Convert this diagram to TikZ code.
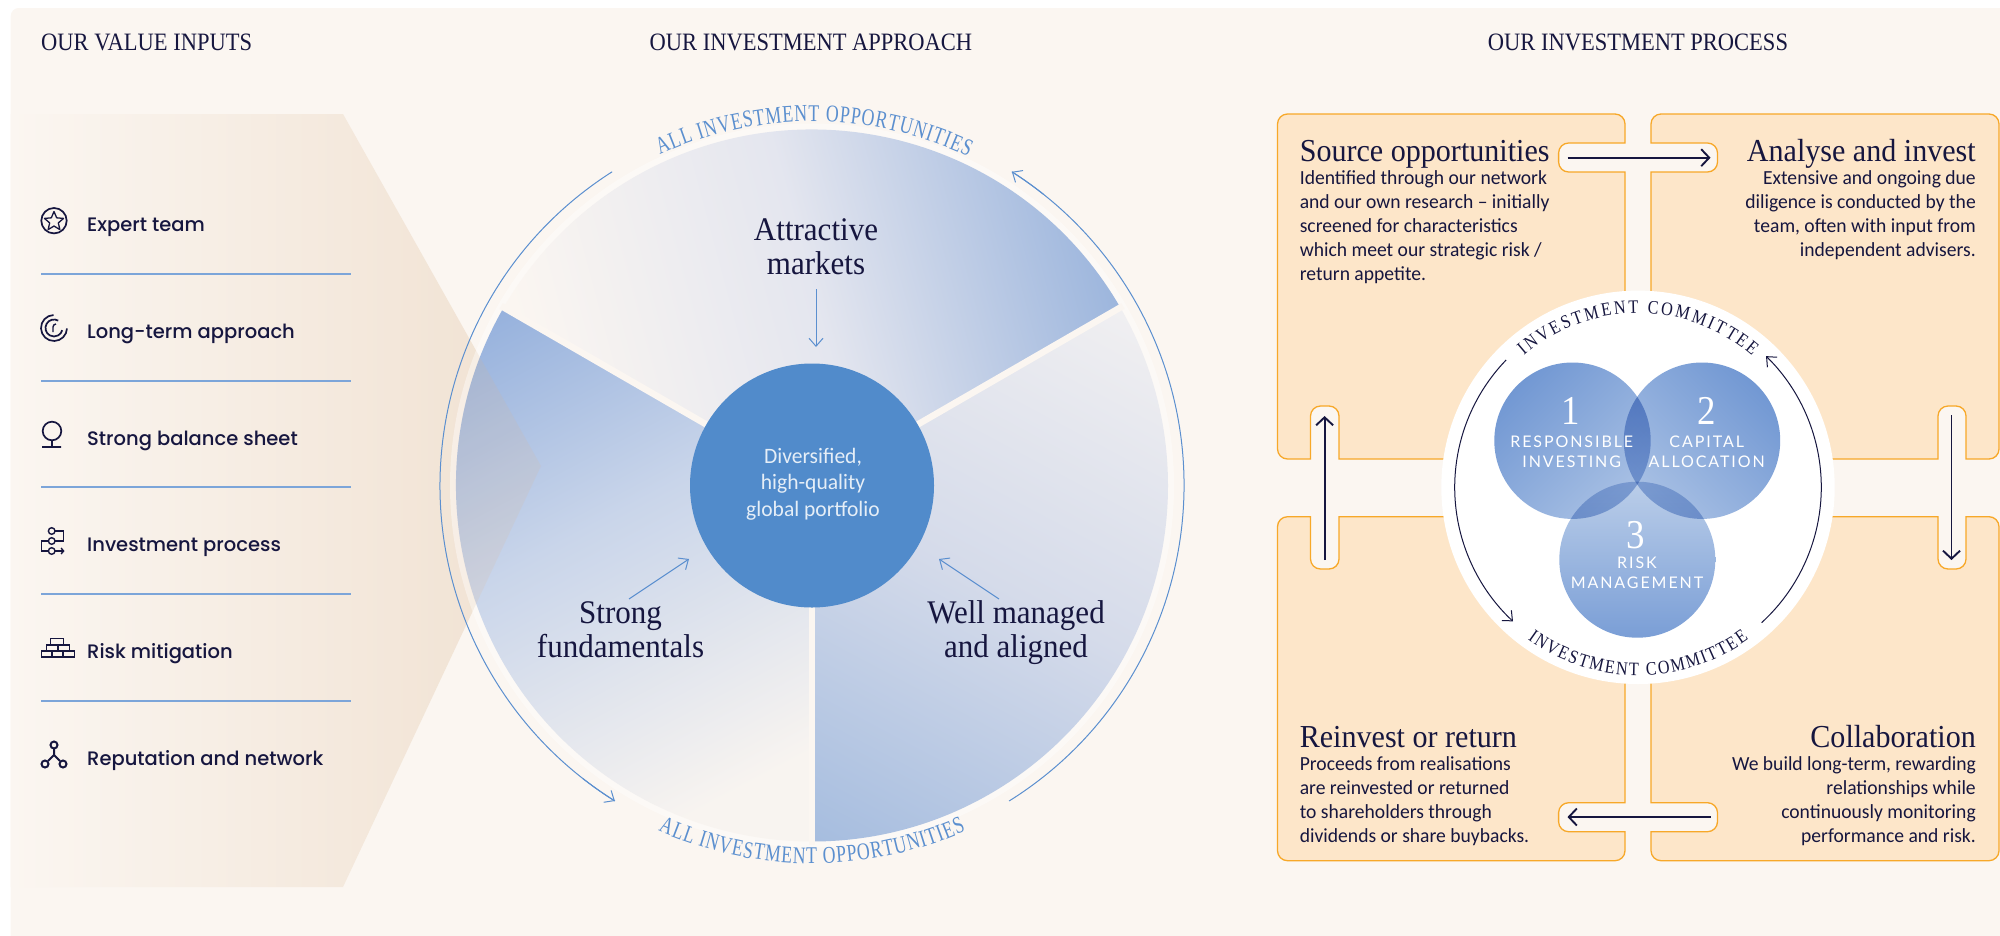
\documentclass[tikz,border=0pt]{standalone}
\usepackage{fontspec}
\usetikzlibrary{arrows.meta,calc,decorations.text,shapes.geometric}
\newfontfamily\titlefont[FakeStretch=.9]{Liberation Serif}
\newfontfamily\bigfont[FakeStretch=.94]{Liberation Serif}
\newfontfamily\arcfont[FakeStretch=.74]{Liberation Serif}
\newfontfamily\ringfont[FakeStretch=.85]{Liberation Serif}
\newfontfamily\bodyfont[FakeStretch=.98]{Carlito}
\newfontfamily\labelfont{Poppins Medium}
\newfontfamily\capfont[LetterSpace=12]{Lato}
\definecolor{paper}{HTML}{FBF6F1}
\definecolor{navy}{HTML}{16163F}
\definecolor{accent}{HTML}{5B8FCF}
\definecolor{core}{HTML}{518BCB}
\definecolor{sand}{HTML}{FDE6C9}
\definecolor{amber}{HTML}{F7A829}
\definecolor{wedgeA}{HTML}{E4E6EF}
\definecolor{wedgeB}{HTML}{9DB6DD}
\definecolor{wedgeC}{HTML}{97B2DD}
\definecolor{wedgeD}{HTML}{C9D5EA}
\definecolor{wedgeE}{HTML}{F8F4F0}
\definecolor{wedgeF}{HTML}{F0EFF1}
\definecolor{wedgeG}{HTML}{D5DBEA}
\definecolor{wedgeH}{HTML}{A6BDDF}
\definecolor{bandA}{HTML}{F6ECE2}
\definecolor{bandB}{HTML}{F0E1D1}
\definecolor{vennA}{HTML}{7298D3}
\definecolor{vennB}{HTML}{A8C0E4}
\definecolor{vennC}{HTML}{BBCEE9}
\definecolor{vennD}{HTML}{7A9ED6}
\pgfdeclareverticalshading{topfade}{100bp}{color(0bp)=(paper); color(35.5bp)=(paper); color(53bp)=(wedgeA); color(70.4bp)=(wedgeB); color(100bp)=(wedgeB)}
\pgfdeclareverticalshading{leftfade}{100bp}{color(0bp)=(wedgeC); color(32.2bp)=(wedgeC); color(46bp)=(wedgeD); color(64bp)=(wedgeE); color(100bp)=(wedgeE)}
\pgfdeclareverticalshading{rightfade}{100bp}{color(0bp)=(wedgeF); color(32.2bp)=(wedgeF); color(50bp)=(wedgeG); color(68.6bp)=(wedgeH); color(100bp)=(wedgeH)}
\tikzset{%
	heading/.style  = {anchor=base, inner sep=0, text=navy, font=\titlefont\fontsize{25}{25}\selectfont},
	valuetext/.style= {anchor=base west, inner sep=0, text=navy, font=\labelfont\fontsize{19.5}{24}\selectfont},
	pietext/.style  = {anchor=base, inner sep=0, text=navy, align=center, font=\bigfont\fontsize{33}{34}\selectfont},
	boxhead/.style  = {inner sep=0, text=navy, font=\bigfont\fontsize{32}{32}\selectfont},
	boxbody/.style  = {inner sep=0, text=navy, font=\bodyfont\fontsize{20}{24}\selectfont},
	venntext/.style = {anchor=base, inner sep=0, text=white, align=center, font=\capfont\fontsize{16}{19.3}\selectfont},
	vennnum/.style  = {anchor=base, inner sep=0, text=white, font=\titlefont\fontsize{41}{41}\selectfont},
	icon/.style     = {draw=navy, line width=1.7pt},
	rule/.style     = {draw=accent!80, line width=1.2pt},
	flow/.style     = {draw=accent, line width=1pt, -{Straight Barb[length=8pt,width=14pt,line width=1pt]}},
	plainarc/.style = {draw=accent, line width=1pt},
	ringarc/.style  = {draw=navy, line width=1pt},
	ringflow/.style = {ringarc, -{Straight Barb[length=8pt,width=14pt,line width=1pt]}},
	stepflow/.style = {draw=navy, line width=1.9pt, -{Straight Barb[length=8pt,width=17pt,line width=1.9pt]}},
	stepbox/.style  = {draw=amber, fill=sand, line width=1.3pt},
	rc/.style       = {rounded corners=10pt},
	sc/.style       = {sharp corners},
}
\begin{document}
\begin{tikzpicture}[x=1pt,y=-1pt]
	\useasboundingbox (0,0) rectangle (2000,935);
	\fill[paper,rounded corners=8pt] (10.7,8) rectangle (2020,960);
	\coordinate (core) at (812,485.5);
	\coordinate (ring) at (1638,487.3);

	% value input band
	\path[left color=paper,middle color=bandA,right color=bandB] (10.7,114) -- (343,114) -- (541,466) -- (343,887) -- (10.7,887) -- cycle;
	\node[heading,anchor=base west] (headvalue) at (41,50) {OUR VALUE INPUTS};
	\node[heading] (headapproach) at (811,50) {OUR INVESTMENT APPROACH};
	\node[heading] (headprocess) at (1638,50) {OUR INVESTMENT PROCESS};

	\foreach \y in {274,381,487,594,701}
		\draw[rule] (41,\y) -- (351,\y);
	\foreach \y/\name/\txt in {231/team/Expert team,338/term/Long-term approach,445/sheet/Strong balance sheet,551/proc/Investment process,658/risk/Risk mitigation,765/net/Reputation and network}
		\node[valuetext] (\name) at (87,\y) {\txt};

	% icons
	\draw[icon] (54,220.7) circle (12.7);
	\node[icon,star,star points=5,star point ratio=2.2,minimum size=20pt,inner sep=0,line width=1.3pt,line join=round] (staricon) at (54,221.5) {};
	\begin{scope}[shift={(54,328)},y=1pt]
		\draw[icon] (92:13) arc[start angle=92,end angle=358,radius=13];
		\draw[icon] (60:8.5) arc[start angle=60,end angle=345,radius=8.5];
		\draw[icon,line width=1.4pt] (-1,-4) -- (-1,1) arc[start angle=180,end angle=90,radius=3];
	\end{scope}
	\draw[icon] (52,431) circle (9.3) (52,440.3) -- (52,447) (42,447) -- (61,447);
	\foreach \y in {531,541,551}
		\draw[icon,line width=1.4pt] (51.7,\y) circle (3.3);
	\draw[icon,line width=1.4pt] (55,531) -- (63.3,531) -- (63.3,541) -- (55,541) (48.4,541) -- (41.5,541) -- (41.5,551) -- (48.4,551);
	\draw[icon,line width=1.4pt,-{Straight Barb[length=2.5pt,width=6pt]}] (55,551) -- (64.5,551);
	\draw[icon,line width=1.5pt] (50.7,638.5) rectangle (63.3,645) (46.7,645) rectangle (58,651) (58,645) rectangle (69.3,651) (41.5,651) rectangle (52,657) (52,651) rectangle (63,657) (63,651) rectangle (74.3,657);
	\draw[icon,line width=2pt] (54,745) circle (3.5) (45,764) circle (3.5) (63,764) circle (3.5);
	\draw[icon,line width=2pt] (54,748.5) -- (54,755) -- (48,761) (54,755) -- (60,761);

	% pie
	\fill[white,opacity=.4] (core) circle (362);
	\foreach \from/\to/\fade/\ang in {30/150/topfade/-75,150/270/leftfade/-152,270/390/rightfade/152}{
		\begin{scope}
			\clip (core) -- ++(\from:356pt) arc[start angle=\from,end angle=\to,radius=356pt] -- cycle;
			\shade[shading=\fade,shading angle=\ang] (392,65.5) rectangle (1232,905.5);
		\end{scope}
	}
	\begin{scope}
		\clip (10.7,114) -- (343,114) -- (541,466) -- (343,887) -- (10.7,887) -- cycle;
		\fill[brown!70!orange!60,opacity=.13] (core) circle (356);
	\end{scope}
	\foreach \a in {30,150,270}
		\draw[paper,line width=6.5pt] (core) -- ++(\a:359pt);
	\node[circle,fill=core,minimum size=244pt,inner sep=0] (hub) at (core) {};
	\node[anchor=base,inner sep=0,text=white!85!core,align=center,font=\bodyfont\fontsize{22}{26.5}\selectfont] (hubtext) at (813,516) {Diversified,\\high-quality\\global portfolio};

	\begin{scope}[shift={(core)},y=1pt]
		\draw[plainarc] (122.5:372) arc[start angle=122.5,end angle=238,radius=372];
		\draw[plainarc] (-58:372) arc[start angle=-58,end angle=57.5,radius=372];
		\draw[flow] (232:372) arc[start angle=232,end angle=238,radius=372];
		\draw[flow] (51.5:372) arc[start angle=51.5,end angle=57.5,radius=372];
		\path[decorate,decoration={text along path,text={|\arcfont\fontsize{24}{24}\selectfont\color{accent}|ALL INVESTMENT OPPORTUNITIES},text align=fit to path}] (114.7:364) arc[start angle=114.7,end angle=64.6,radius=364];
		\path[decorate,decoration={text along path,text={|\arcfont\fontsize{24}{24}\selectfont\color{accent}|ALL INVESTMENT OPPORTUNITIES},text align=fit to path}] (246:378) arc[start angle=246,end angle=294,radius=378];
	\end{scope}

	\node[pietext] (attractive) at (816,274) {Attractive\\markets};
	\node[pietext] (strong) at (620.5,657) {Strong\\fundamentals};
	\node[pietext] (well) at (1016,657) {Well managed\\and aligned};
	\coordinate (mkta) at (816,289);
	\coordinate (mktb) at (816,347);
	\coordinate (fuda) at (629,599);
	\coordinate (fudb) at (689,559);
	\coordinate (alia) at (999,599);
	\coordinate (alib) at (939,559);
	\draw[flow] (mkta) -- (mktb);
	\draw[flow] (fuda) -- (fudb);
	\draw[flow] (alia) -- (alib);

	% process boxes
	\draw[stepbox] (1400,114) [rc] -- (1625,114) [sc] -- (1625,143) [rc] -- (1558.6,143) -- (1558.6,172) [sc] -- (1625,172) [rc] -- (1625,459) [sc] -- (1339,459) [rc] -- (1339,406) -- (1310.5,406) [sc] -- (1310.5,459) [rc] -- (1277.5,459) -- (1277.5,114) -- cycle;
	\draw[stepbox] (1800,114) [rc] -- (1999,114) -- (1999,459) [sc] -- (1966,459) [rc] -- (1966,406) -- (1938,406) [sc] -- (1938,459) [rc] -- (1651,459) [sc] -- (1651,172) [rc] -- (1717.5,172) -- (1717.5,143) [sc] -- (1651,143) [rc] -- (1651,114) -- cycle;
	\draw[stepbox] (1400,860.7) [rc] -- (1277.5,860.7) -- (1277.5,516.7) [sc] -- (1310.5,516.7) [rc] -- (1310.5,569) -- (1339,569) [sc] -- (1339,516.7) [rc] -- (1625,516.7) [sc] -- (1625,802.7) [rc] -- (1558.6,802.7) -- (1558.6,831.7) [sc] -- (1625,831.7) [rc] -- (1625,860.7) -- cycle;
	\draw[stepbox] (1800,860.7) [rc] -- (1651,860.7) [sc] -- (1651,831.7) [rc] -- (1717.5,831.7) -- (1717.5,802.7) [sc] -- (1651,802.7) [rc] -- (1651,516.7) [sc] -- (1938,516.7) [rc] -- (1938,569) -- (1966,569) [sc] -- (1966,516.7) [rc] -- (1999,516.7) -- (1999,860.7) -- cycle;

	\coordinate (srca) at (1567.5,157.7);
	\coordinate (srcb) at (1710.5,157.7);
	\coordinate (anaa) at (1951.5,415);
	\coordinate (anab) at (1951.5,560);
	\coordinate (cola) at (1710.5,817);
	\coordinate (colb) at (1567.5,817);
	\coordinate (reia) at (1324.6,560);
	\coordinate (reib) at (1324.6,416);
	\draw[stepflow] (srca) -- (srcb);
	\draw[stepflow] (anaa) -- (anab);
	\draw[stepflow] (cola) -- (colb);
	\draw[stepflow] (reia) -- (reib);

	\node[boxhead,anchor=base west] (source) at (1299.6,161) {Source opportunities};
	\node[boxbody,anchor=north west,align=left] (sourcetext) at (1299.6,170) {Identified through our network\\and our own research – initially\\screened for characteristics\\which meet our strategic risk /\\return appetite.};
	\node[boxhead,anchor=base east] (analyse) at (1976,161) {Analyse and invest};
	\node[boxbody,anchor=north east,align=right] (analysetext) at (1976,170) {Extensive and ongoing due\\diligence is conducted by the\\team, often with input from\\independent advisers.};
	\node[boxhead,anchor=base west] (reinvest) at (1299.6,747.7) {Reinvest or return};
	\node[boxbody,anchor=north west,align=left] (reinvesttext) at (1299.6,756.7) {Proceeds from realisations\\are reinvested or returned\\to shareholders through\\dividends or share buybacks.};
	\node[boxhead,anchor=base east] (collab) at (1976,747.7) {Collaboration};
	\node[boxbody,anchor=north east,align=right] (collabtext) at (1976,756.7) {We build long-term, rewarding\\relationships while\\continuously monitoring\\performance and risk.};

	% committee ring
	\node[circle,fill=white,minimum size=393.4pt,inner sep=0] (committee) at (ring) {};
	\begin{scope}[blend mode=multiply]
		\shade[top color=vennA,bottom color=vennB,shading angle=45] (1572.5,440.7) circle (78.2);
		\shade[top color=vennA,bottom color=vennB,shading angle=-45] (1702,440.7) circle (78.2);
		\shade[top color=vennC,bottom color=vennD] (1637.3,559.7) circle (78);
	\end{scope}
	\node[vennnum] (one) at (1571,424) {1};
	\node[vennnum] (two) at (1706.7,424) {2};
	\node[vennnum] (three) at (1636,548) {3};
	\node[venntext] (respons) at (1571.7,467) {RESPONSIBLE\\INVESTING};
	\node[venntext] (capital) at (1706.7,467) {CAPITAL\\ALLOCATION};
	\node[venntext] (riskman) at (1637,588) {RISK\\MANAGEMENT};

	\begin{scope}[shift={(ring)},y=1pt]
		\draw[ringflow] (136:183.3) arc[start angle=136,end angle=227,radius=183.3];
		\draw[ringflow] (-47.6:183.3) arc[start angle=-47.6,end angle=45.7,radius=183.3];
		\path[decorate,decoration={text along path,text={|\ringfont\fontsize{19}{19}\selectfont\color{navy}|INVESTMENT COMMITTEE},text align=fit to path}] (131:174) arc[start angle=131,end angle=49,radius=174];
		\path[decorate,decoration={text along path,text={|\ringfont\fontsize{19}{19}\selectfont\color{navy}|INVESTMENT COMMITTEE},text align=fit to path}] (234:188) arc[start angle=234,end angle=306,radius=188];
	\end{scope}
\end{tikzpicture}
\end{document}
